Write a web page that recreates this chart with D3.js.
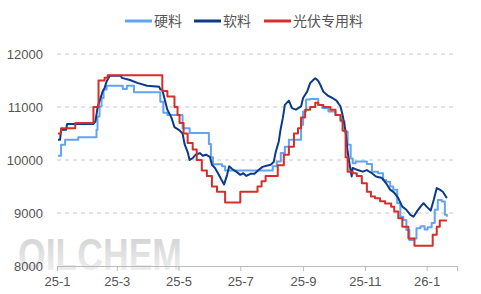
<!DOCTYPE html>
<html>
<head>
<meta charset="utf-8">
<script src="https://cdn.jsdelivr.net/npm/d3@7"></script>
<style>
	html, body { margin: 0; padding: 0; background: #fff; }
	svg { display: block; font-family: "Noto Sans CJK SC", "Noto Sans", sans-serif; }
</style>
</head>
<body>
<svg id="chart"></svg>
<script>
// 硬料 / 软料 / 光伏专用料 price, 2025-01 .. 2026-01 (元/吨)
var seriesNames = ['硬料', '软料', '光伏专用料'];
var seriesColors = ['#62a3f2', '#0b3b86', '#d42f2a'];
var yTicks = [8000, 9000, 10000, 11000, 12000];
var xTicks = ['2025-01-01', '2025-03-01', '2025-05-01', '2025-07-01', '2025-09-01', '2025-11-01', '2026-01-01'];
var xTickLabels = ['25-1', '25-3', '25-5', '25-7', '25-9', '25-11', '26-1'];

// 硬料 (change points, step)
var hardDates = ['2025-01-02','2025-01-05','2025-01-09','2025-01-22','2025-02-09','2025-02-10','2025-02-12','2025-02-14','2025-02-16','2025-02-19',
	'2025-03-07','2025-03-11','2025-03-18','2025-04-13','2025-04-16','2025-04-20','2025-05-05','2025-05-12','2025-05-31','2025-06-02',
	'2025-06-04','2025-06-13','2025-06-16','2025-08-02','2025-08-06','2025-08-10','2025-08-14','2025-08-18','2025-08-30','2025-09-01',
	'2025-09-04','2025-09-08','2025-09-16','2025-09-20','2025-09-26','2025-10-03','2025-10-08','2025-10-12','2025-10-15','2025-10-18',
	'2025-10-20','2025-10-23','2025-11-03','2025-11-08','2025-11-14','2025-11-19','2025-11-22','2025-11-26','2025-11-29','2025-12-03',
	'2025-12-06','2025-12-09','2025-12-12','2025-12-15','2025-12-19','2025-12-22','2025-12-26','2025-12-30','2026-01-02','2026-01-06',
	'2026-01-09','2026-01-12','2026-01-16','2026-01-19','2026-01-21'];
var hardValues = [10080,10290,10380,10430,10570,10820,11010,11170,11330,11400,
	11340,11400,11280,11100,10890,10850,10600,10510,10300,10050,
	9920,9880,9800,9880,9970,10130,10250,10380,10665,10915,
	11140,11150,11040,10980,10915,10850,10730,10540,10290,10030,
	9940,9970,9925,9780,9750,9625,9590,9500,9440,9185,
	8930,8870,8680,8490,8520,8710,8750,8690,8730,8810,
	9060,9245,9215,8965,8930];

// 软料 (daily-ish points, linear)
var softDates = ['2025-01-02','2025-01-04','2025-01-05','2025-01-10','2025-01-11','2025-02-06','2025-02-08','2025-02-10','2025-02-13','2025-02-15',
	'2025-02-17','2025-02-19','2025-02-22','2025-03-05','2025-03-06','2025-03-14','2025-03-22','2025-03-31','2025-04-12','2025-04-13',
	'2025-04-15','2025-04-17','2025-04-20','2025-04-24','2025-04-27','2025-05-02','2025-05-05','2025-05-07','2025-05-10','2025-05-12',
	'2025-05-15','2025-05-18','2025-05-22','2025-05-25','2025-05-28','2025-06-01','2025-06-03','2025-06-06','2025-06-09','2025-06-12',
	'2025-06-15','2025-06-18','2025-06-20','2025-06-23','2025-06-27','2025-07-01','2025-07-04','2025-07-07','2025-07-11','2025-07-15',
	'2025-07-19','2025-07-23','2025-07-27','2025-07-31','2025-08-03','2025-08-05','2025-08-08','2025-08-10','2025-08-12','2025-08-14',
	'2025-08-18','2025-08-21','2025-08-25','2025-08-30','2025-09-01','2025-09-05','2025-09-08','2025-09-11','2025-09-13','2025-09-14',
	'2025-09-16','2025-09-18','2025-09-21','2025-09-25','2025-09-30','2025-10-04','2025-10-08','2025-10-10','2025-10-13','2025-10-15',
	'2025-10-17','2025-10-19','2025-10-20','2025-10-25','2025-10-30','2025-11-03','2025-11-08','2025-11-12','2025-11-18','2025-11-22',
	'2025-11-26','2025-11-30','2025-12-04','2025-12-08','2025-12-12','2025-12-16','2025-12-19','2025-12-23','2025-12-26','2025-12-29',
	'2026-01-01','2026-01-05','2026-01-08','2026-01-11','2026-01-14','2026-01-17','2026-01-20','2026-01-21'];
var softValues = [10380,10380,10570,10570,10680,10680,10730,10985,11170,11290,
	11360,11480,11590,11590,11550,11510,11450,11400,11380,11330,
	11330,11170,10950,10800,10620,10560,10500,10300,10150,10000,
	10035,10100,10130,10080,10100,10060,9910,9850,9750,9640,
	9540,9720,9880,9830,9780,9720,9750,9700,9740,9740,
	9810,9870,9890,9910,9960,10150,10350,10600,10790,11040,
	11120,10980,10950,11010,11170,11290,11450,11510,11540,11530,
	11490,11420,11290,11220,11170,11120,11010,10850,10540,10160,
	9910,9690,9850,9810,9780,9810,9750,9690,9660,9560,
	9440,9385,9280,9120,9060,8965,8930,9045,9120,9185,
	9120,9045,9245,9470,9440,9400,9310,9280];

// 光伏专用料 (change points, step)
var pvDates = ['2025-01-02','2025-01-05','2025-01-19','2025-02-06','2025-02-11','2025-02-17','2025-02-20','2025-04-15','2025-04-20','2025-04-27',
	'2025-04-30','2025-05-02','2025-05-06','2025-05-10','2025-05-15','2025-05-19','2025-05-24','2025-05-29','2025-06-03','2025-06-08',
	'2025-06-16','2025-07-01','2025-07-18','2025-07-22','2025-07-26','2025-08-07','2025-08-13','2025-08-18','2025-08-23','2025-08-27',
	'2025-08-30','2025-09-03','2025-09-08','2025-09-13','2025-09-16','2025-09-21','2025-09-28','2025-10-03','2025-10-08','2025-10-10',
	'2025-10-13','2025-10-15','2025-10-20','2025-10-24','2025-10-29','2025-11-03','2025-11-07','2025-11-11','2025-11-16','2025-11-21',
	'2025-11-27','2025-11-30','2025-12-04','2025-12-08','2025-12-14','2025-12-20','2026-01-07','2026-01-11','2026-01-14','2026-01-21'];
var pvValues = [10500,10600,10700,11000,11500,11550,11600,11300,11200,11000,
	10850,10700,10500,10320,10200,10000,9800,9700,9500,9400,
	9200,9400,9500,9600,9700,9900,10100,10250,10500,10600,
	10800,10950,11000,11080,11040,11000,10950,10850,10750,10550,
	10050,9780,9750,9700,9560,9400,9310,9280,9220,9180,
	9120,9030,8900,8740,8520,8380,8590,8740,8860,8860];

var W = 481, H = 294;
var margin = {top: 54, right: 24, bottom: 28, left: 57};
var width = W - margin.left - margin.right;
var height = H - margin.top - margin.bottom;
var parse = d3.timeParse('%Y-%m-%d');

function zip(dates, values) {
	return dates.map(function(d, i) { return {date: parse(d), value: values[i]}; });
}
var series = [
	{name: seriesNames[0], color: seriesColors[0], data: zip(hardDates, hardValues), curve: d3.curveStepAfter},
	{name: seriesNames[1], color: seriesColors[1], data: zip(softDates, softValues), curve: d3.curveLinear},
	{name: seriesNames[2], color: seriesColors[2], data: zip(pvDates, pvValues), curve: d3.curveStepAfter}
];

var svg = d3.select('#chart').attr('width', W).attr('height', H);

// watermark
var wmGrad = svg.append('defs').append('linearGradient')
	.attr('id', 'wm').attr('x1', 0).attr('y1', 0).attr('x2', 0).attr('y2', 1);
wmGrad.append('stop').attr('offset', '0%').attr('stop-color', '#cfcfcf');
wmGrad.append('stop').attr('offset', '100%').attr('stop-color', '#f4f4f4');
svg.append('text')
	.attr('x', 18).attr('y', 270)
	.attr('textLength', 164).attr('lengthAdjust', 'spacingAndGlyphs')
	.attr('font-family', 'Liberation Sans, Arial, sans-serif')
	.attr('font-weight', 'bold')
	.attr('font-size', 44)
	.attr('fill', 'url(#wm)')
	.text('OILCHEM');

var g = svg.append('g').attr('transform', 'translate(' + margin.left + ',' + margin.top + ')');

var x = d3.scaleTime()
	.domain([parse('2025-01-01'), parse('2026-01-31')])
	.range([0, width]);
var y = d3.scaleLinear()
	.domain([8000, 12000])
	.range([height, 0]);

// grid
g.append('g')
	.selectAll('line')
	.data(yTicks.slice(1))
	.join('line')
		.attr('x1', 0).attr('x2', width)
		.attr('y1', function(d) { return y(d); })
		.attr('y2', function(d) { return y(d); })
		.attr('stroke', '#c8c8c8')
		.attr('stroke-dasharray', '4,4');

var yAxis = g.append('g')
	.call(d3.axisLeft(y).tickValues(yTicks).tickSize(0).tickPadding(14).tickFormat(d3.format('d')));
yAxis.select('.domain').remove();
yAxis.selectAll('text').attr('fill', '#555').attr('font-size', 13);

var xAxis = g.append('g')
	.attr('transform', 'translate(0,' + height + ')')
	.call(d3.axisBottom(x).tickValues(xTicks.map(parse)).tickSize(5).tickPadding(6)
		.tickFormat(function(d, i) { return xTickLabels[i]; }));
xAxis.select('.domain').attr('stroke', '#bbb');
xAxis.selectAll('line').attr('stroke', '#bbb');
xAxis.selectAll('text').attr('fill', '#555').attr('font-size', 13);

// lines
series.forEach(function(s) {
	var line = d3.line()
		.curve(s.curve)
		.x(function(d) { return x(d.date); })
		.y(function(d) { return y(d.value); });
	g.append('path')
		.datum(s.data)
		.attr('fill', 'none')
		.attr('stroke', s.color)
		.attr('stroke-width', 2)
		.attr('stroke-linejoin', 'round')
		.attr('d', line);
});

// legend
var legendX = [125, 194, 264];
var legend = svg.append('g').attr('transform', 'translate(0,21)');
var items = legend.selectAll('g')
	.data(series)
	.join('g')
		.attr('transform', function(d, i) { return 'translate(' + legendX[i] + ',0)'; });
items.append('line')
	.attr('x1', 0).attr('x2', 27)
	.attr('stroke', function(d) { return d.color; })
	.attr('stroke-width', 3);
items.append('text')
	.attr('x', 29).attr('dy', '0.35em')
	.attr('font-size', 14)
	.attr('fill', '#555')
	.text(function(d) { return d.name; });
</script>
</body>
</html>
